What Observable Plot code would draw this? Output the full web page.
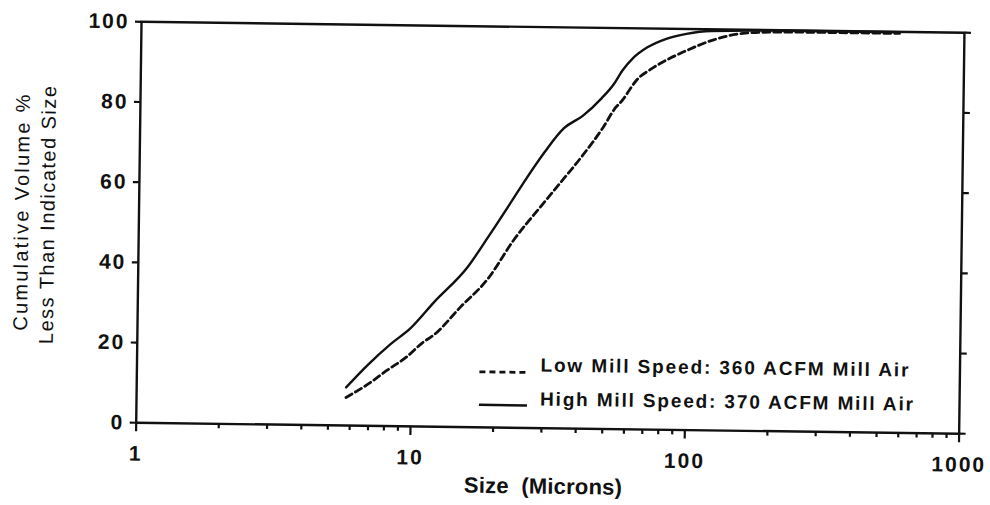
<!DOCTYPE html>
<html><head><meta charset="utf-8">
<script src="https://cdn.jsdelivr.net/npm/d3@7"></script>
<script src="https://cdn.jsdelivr.net/npm/@observablehq/plot@0.6"></script>
<style>
body{margin:0;background:#fff;}
#wrap{position:relative;width:990px;height:505px;transform:rotate(0.76deg);transform-origin:495px 252px;}
#wrap svg{position:absolute;left:0;top:0;}
</style></head><body><div id="wrap"></div>
<script>
// Low Mill Speed: 360 ACFM Mill Air (dashed)
const lowSize = [5.8, 6.9, 8.2, 9.6, 11, 12, 15, 18.8, 23.4, 29.3, 34, 41, 48.5, 54, 57.5, 61, 64, 72, 78, 85, 97, 122, 156, 200, 300, 580];
const lowPct  = [7, 10.2, 14, 17.3, 21, 22.8, 29.9, 37, 47, 55.5, 61, 68, 75, 80.2, 82.3, 85, 87, 89.8, 91.3, 92.7, 94.6, 97.4, 99.1, 99.5, 99.6, 99.6];
// High Mill Speed: 370 ACFM Mill Air (solid)
const highSize = [5.8, 6.9, 8.4, 9.9, 12, 15.9, 18.8, 22.8, 25.5, 30, 35, 41, 48, 53, 57, 62, 70, 82, 97, 119, 200, 580];
const highPct  = [9.5, 15, 20.5, 24.5, 31, 40, 47.5, 56.5, 61.8, 69, 74.8, 78, 82.5, 86, 89.5, 92.5, 95.3, 97.5, 98.8, 99.6, 99.9, 99.9];
const majorTicks = [1, 10, 100, 1000];
const minorTicks = [2,3,4,5,6,7,8,9,20,30,40,50,60,70,80,90,200,300,400,500,600,700,800,900];
const yTicks = [0, 20, 40, 60, 80, 100];
const seriesNames = ["Low Mill Speed: 360 ACFM Mill Air", "High Mill Speed: 370 ACFM Mill Air"];
const yTitle = ["Cumulative Volume %", "Less Than Indicated Size"];
const xTitle = "Size  (Microns)";

const low = lowSize.map((s, i) => ({size: s, pct: lowPct[i]}));
const high = highSize.map((s, i) => ({size: s, pct: highPct[i]}));
const ink = "#111";
const font = '"Liberation Sans", Arial, Helvetica, sans-serif';

const chart = Plot.plot({
  width: 990, height: 505,
  marginLeft: 138, marginRight: 29, marginTop: 26, marginBottom: 78,
  style: {fontFamily: font, color: ink, background: "transparent"},
  x: {type: "log", domain: [1, 1000]},
  y: {domain: [0, 100]},
  marks: [
    Plot.axisX(majorTicks, {tickSize: 9, tickPadding: 14, tickFormat: d => String(d), fontSize: 21, fontWeight: "bold", label: null, strokeWidth: 2.2, stroke: ink, fill: ink}),
    Plot.axisX(minorTicks, {tickSize: 5, tickFormat: () => "", label: null, strokeWidth: 2.2, stroke: ink}),
    Plot.axisY(yTicks, {tickSize: 6, tickPadding: 6, fontSize: 21, fontWeight: "bold", label: null, strokeWidth: 2.2, stroke: ink, fill: ink}),
    Plot.axisY(yTicks, {anchor: "right", tickSize: 6, tickFormat: () => "", label: null, strokeWidth: 2.2, stroke: ink}),
    Plot.frame({stroke: ink, strokeWidth: 2.4}),
    Plot.line(low, {x: "size", y: "pct", curve: "monotone-x", stroke: ink, strokeWidth: 2.8, strokeDasharray: "7,4"}),
    Plot.line(high, {x: "size", y: "pct", curve: "monotone-x", stroke: ink, strokeWidth: 2.4})
  ]
});
document.getElementById("wrap").appendChild(chart);

const svg = d3.select(chart);
// wider tick-label spacing like the scanned original
svg.selectAll('[aria-label="x-axis tick label"] text').attr("letter-spacing", 2);
svg.selectAll('[aria-label="y-axis tick label"] text').attr("letter-spacing", 2);

const g = svg.append("g").attr("font-family", font).attr("fill", ink);
// y-axis title (two rotated lines)
g.append("text").attr("transform", "translate(28,219) rotate(-90)").attr("text-anchor", "middle")
  .attr("font-size", 20).attr("textLength", 236).attr("lengthAdjust", "spacing").text(yTitle[0]);
g.append("text").attr("transform", "translate(54,221) rotate(-90)").attr("text-anchor", "middle")
  .attr("font-size", 20).attr("textLength", 258).attr("lengthAdjust", "spacing").text(yTitle[1]);
// x-axis title
g.append("text").attr("x", 546).attr("y", 493).attr("text-anchor", "middle")
  .attr("font-size", 22).attr("font-weight", "bold")
  .attr("textLength", 158).attr("lengthAdjust", "spacing").style("white-space", "pre").text(xTitle);

// legend
const legendRows = [
  {name: seriesNames[0], dash: "6,4", sw: 2.8, lineY: 372, textY: 371, textLen: 368},
  {name: seriesNames[1], dash: null, sw: 2.4, lineY: 405, textY: 405, textLen: 373}
];
legendRows.forEach(r => {
  const ln = g.append("line").attr("x1", 481).attr("x2", 529).attr("y1", r.lineY).attr("y2", r.lineY)
    .attr("stroke", ink).attr("stroke-width", r.sw);
  if (r.dash) ln.attr("stroke-dasharray", r.dash);
  g.append("text").attr("x", 542).attr("y", r.textY).attr("text-anchor", "start")
    .attr("font-size", 19).attr("font-weight", "bold")
    .attr("textLength", r.textLen).attr("lengthAdjust", "spacing").text(r.name);
});
</script>
</body></html>
